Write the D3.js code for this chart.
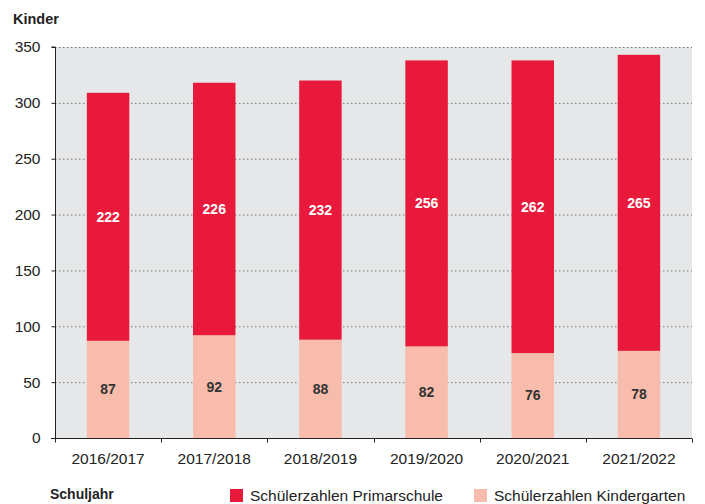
<!DOCTYPE html>
<html>
<head>
<meta charset="utf-8">
<script src="https://cdn.jsdelivr.net/npm/d3@7"></script>
<style>
  body { margin: 0; background: #fff; }
  svg { display: block; font-family: "Liberation Sans", Arial, sans-serif; }
</style>
</head>
<body>
<div id="chartContainer"></div>
<script>
// Chart data
const years = ["2016/2017", "2017/2018", "2018/2019", "2019/2020", "2020/2021", "2021/2022"];
const kindergarten = [87, 92, 88, 82, 76, 78];
const primarschule = [222, 226, 232, 256, 262, 265];
const yTicks = [0, 50, 100, 150, 200, 250, 300, 350];
const seriesNames = ["Schülerzahlen Primarschule", "Schülerzahlen Kindergarten"];

function createChart() {
    const width = 705;
    const height = 504;
    const margin = { top: 47, right: 13, bottom: 66, left: 55 };

    const colors = { prim: "#e8193a", kg: "#f8bcad" };

    const x = d3.scaleBand()
        .domain(years)
        .range([margin.left, width - margin.right])
        .paddingInner(0.6)
        .paddingOuter(0.3);

    const y = d3.scaleLinear()
        .domain([0, 350])
        .range([height - margin.bottom, margin.top]);

    const svg = d3.create("svg")
        .attr("width", width)
        .attr("height", height)
        .attr("viewBox", `0 0 ${width} ${height}`);

    // Plot background
    svg.append("rect")
        .attr("x", margin.left)
        .attr("y", margin.top)
        .attr("width", width - margin.right - margin.left)
        .attr("height", y(0) - margin.top)
        .attr("fill", "#e6e7e8");

    // Gridlines
    svg.append("g")
        .selectAll("line")
        .data(yTicks.filter(d => d > 0))
        .join("line")
        .attr("x1", margin.left)
        .attr("x2", width - margin.right)
        .attr("y1", d => y(d) + 0.5)
        .attr("y2", d => y(d) + 0.5)
        .attr("stroke", "#777")
        .attr("stroke-width", 1)
        .attr("stroke-dasharray", "1.5,2.5");

    // Stacked data
    const rows = years.map((yr, i) => ({ year: yr, kg: kindergarten[i], prim: primarschule[i] }));
    const stack = d3.stack().keys(["kg", "prim"])(rows);

    const layer = svg.append("g")
        .selectAll("g")
        .data(stack)
        .join("g")
        .attr("fill", d => colors[d.key]);

    layer.selectAll("rect")
        .data(d => d)
        .join("rect")
        .attr("x", d => x(d.data.year))
        .attr("width", x.bandwidth())
        .attr("y", d => y(d[1]))
        .attr("height", d => y(d[0]) - y(d[1]));

    // Value labels
    svg.append("g")
        .selectAll("g")
        .data(stack)
        .join("g")
        .selectAll("text")
        .data(d => d.map(v => ({ v, key: d.key })))
        .join("text")
        .attr("x", d => x(d.v.data.year) + x.bandwidth() / 2)
        .attr("y", d => y((d.v[0] + d.v[1]) / 2))
        .attr("dy", "0.35em")
        .attr("text-anchor", "middle")
        .attr("font-size", 14)
        .attr("font-weight", "bold")
        .attr("fill", d => d.key === "prim" ? "#fff" : "#333")
        .text(d => d.v.data[d.key]);

    // Y axis
    const yAxis = svg.append("g")
        .attr("transform", `translate(${margin.left + 0.5},0)`)
        .call(d3.axisLeft(y).tickValues(yTicks).tickSize(4).tickPadding(11));
    yAxis.select(".domain").attr("stroke", "#222").attr("d", `M-4,${y(350)}H0V${y(0)}`);
    yAxis.selectAll(".tick line").attr("stroke", "#222");
    yAxis.selectAll(".tick text")
        .attr("font-size", 15.5)
        .attr("fill", "#222")
        .attr("font-family", "Liberation Sans, Arial, sans-serif");

    // X axis with ticks at category boundaries
    const xAxisG = svg.append("g")
        .attr("transform", `translate(0,${y(0) + 0.5})`);
    xAxisG.append("line")
        .attr("x1", margin.left - 4)
        .attr("x2", width - margin.right)
        .attr("stroke", "#222");
    const boundaries = d3.range(years.length + 1).map(i => margin.left + i * (width - margin.right - margin.left) / years.length);
    xAxisG.selectAll(".bt")
        .data(boundaries)
        .join("line")
        .attr("class", "bt")
        .attr("x1", d => Math.round(d) + 0.5)
        .attr("x2", d => Math.round(d) + 0.5)
        .attr("y1", 0)
        .attr("y2", 4)
        .attr("stroke", "#222");
    xAxisG.selectAll("text")
        .data(years)
        .join("text")
        .attr("x", d => x(d) + x.bandwidth() / 2)
        .attr("y", 25)
        .attr("text-anchor", "middle")
        .attr("font-size", 15.5)
        .attr("fill", "#222")
        .text(d => d);

    // Axis titles
    svg.append("text")
        .attr("x", 13)
        .attr("y", 24)
        .attr("font-size", 14.5)
        .attr("font-weight", "bold")
        .attr("fill", "#222")
        .text("Kinder");

    svg.append("text")
        .attr("x", 50)
        .attr("y", 499)
        .attr("font-size", 14)
        .attr("font-weight", "bold")
        .attr("fill", "#222")
        .text("Schuljahr");

    // Legend
    const legend = svg.append("g")
        .selectAll("g")
        .data(seriesNames)
        .join("g")
        .attr("transform", (d, i) => `translate(${i === 0 ? 230 : 474},489)`);
    legend.append("rect")
        .attr("width", 13)
        .attr("height", 13)
        .attr("fill", (d, i) => i === 0 ? colors.prim : colors.kg);
    legend.append("text")
        .attr("x", 20)
        .attr("y", 12)
        .attr("font-size", 15.5)
        .attr("fill", "#222")
        .text(d => d);

    return svg.node();
}

document.getElementById("chartContainer").appendChild(createChart());
</script>
</body>
</html>
